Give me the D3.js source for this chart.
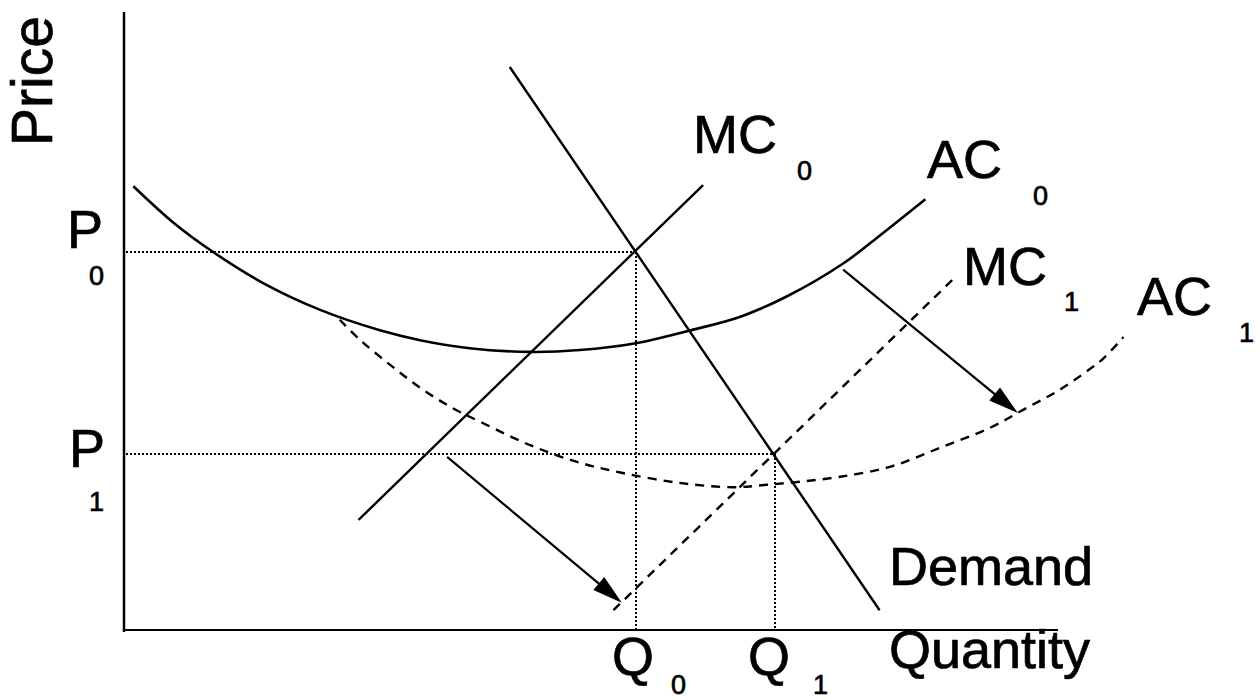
<!DOCTYPE html>
<html>
<head>
<meta charset="utf-8">
<script src="https://cdn.jsdelivr.net/npm/d3@7"></script>
<style>
  html, body { margin: 0; padding: 0; background: #fff; }
  svg { display: block; }
  text { font-family: "Liberation Sans", Arial, Helvetica, sans-serif; fill: #000; stroke: #000; stroke-width: 0.7px; }
</style>
</head>
<body>
<svg id="chart" width="1260" height="700"></svg>
<script>
// ---- data (abstract Quantity / Price units) ----
const demandLine = [[4.13, 9.11], [8.09, 0.32]];
const mc0Line = [[2.51, 1.78], [6.20, 7.20]];
const mc1Line = [[5.24, 0.32], [8.92, 5.74]];
const ac0Curve = [
  [0.10, 7.18], [0.53, 6.59], [0.95, 6.12], [1.53, 5.58], [2.10, 5.18],
  [2.74, 4.85], [3.17, 4.69], [3.70, 4.56], [4.35, 4.50], [4.88, 4.53],
  [5.48, 4.64], [6.04, 4.84], [6.60, 5.07], [7.10, 5.40], [7.70, 5.93],
  [8.09, 6.38], [8.58, 6.97]
];
const ac1Curve = [
  [2.31, 5.02], [2.53, 4.69], [2.85, 4.29], [3.17, 3.92], [3.52, 3.59],
  [3.84, 3.35], [4.35, 2.99], [4.85, 2.72], [5.34, 2.54], [5.95, 2.38],
  [6.52, 2.31], [6.88, 2.35], [7.24, 2.40], [7.67, 2.48], [8.20, 2.64],
  [8.74, 2.95], [9.27, 3.27], [9.66, 3.59], [10.01, 3.88], [10.33, 4.21],
  [10.49, 4.40], [10.70, 4.74]
];
const equilibriumQ = [5.48, 6.97];   // Q0, Q1
const equilibriumP = [6.12, 2.85];   // P0, P1
const shiftArrows = [
  [[3.46, 2.80], [5.33, 0.44]],
  [[7.70, 5.83], [9.57, 3.51]]
];
const axisMax = [10, 10];

// ---- scales ----
const x = d3.scaleLinear().domain([0, axisMax[0]]).range([124, 1058]);
const y = d3.scaleLinear().domain([0, axisMax[1]]).range([630, 12]);

const svg = d3.select("#chart");
const line = d3.line().x(d => x(d[0])).y(d => y(d[1]));
const curve = d3.line().x(d => x(d[0])).y(d => y(d[1])).curve(d3.curveCatmullRom.alpha(0.5));

// axes
svg.append("line").attr("x1", x(0)).attr("x2", x(0)).attr("y1", y(axisMax[1])).attr("y2", y(0) + 2)
  .attr("stroke", "#000").attr("stroke-width", 2.5);
svg.append("line").attr("x1", x(0)).attr("x2", x(axisMax[0])).attr("y1", y(0)).attr("y2", y(0))
  .attr("stroke", "#000").attr("stroke-width", 2.2);

// dotted guide lines
const dotted = svg.append("g").attr("stroke", "#000").attr("stroke-width", 2)
  .attr("stroke-dasharray", "2,2").attr("shape-rendering", "crispEdges");
equilibriumQ.forEach((q, i) => {
  const p = equilibriumP[i];
  const px = Math.round(x(q)), py = Math.round(y(p));
  dotted.append("line").attr("x1", x(0) + 2).attr("x2", px).attr("y1", py).attr("y2", py);
  dotted.append("line").attr("x1", px).attr("x2", px).attr("y1", py).attr("y2", y(0));
});

// solid curves
svg.append("path").datum(ac0Curve).attr("d", curve).attr("fill", "none").attr("stroke", "#000").attr("stroke-width", 2.6);
svg.append("path").datum(mc0Line).attr("d", line).attr("fill", "none").attr("stroke", "#000").attr("stroke-width", 2.4);
svg.append("path").datum(demandLine).attr("d", line).attr("fill", "none").attr("stroke", "#000").attr("stroke-width", 2.4);

// dashed curves
svg.append("path").datum(ac1Curve).attr("d", curve).attr("fill", "none").attr("stroke", "#000")
  .attr("stroke-width", 2.4).attr("stroke-dasharray", "9,7");
svg.append("path").datum(mc1Line).attr("d", line).attr("fill", "none").attr("stroke", "#000")
  .attr("stroke-width", 2.4).attr("stroke-dasharray", "9,7");

// arrows
shiftArrows.forEach(a => {
  const x0 = x(a[0][0]), y0 = y(a[0][1]), x1 = x(a[1][0]), y1 = y(a[1][1]);
  const dx = x1 - x0, dy = y1 - y0, L = Math.hypot(dx, dy);
  const ux = dx / L, uy = dy / L;
  const hl = 30, hw = 8.5;
  const bx = x1 - ux * hl, by = y1 - uy * hl;
  svg.append("line").attr("x1", x0).attr("y1", y0).attr("x2", bx + ux * 4).attr("y2", by + uy * 4)
    .attr("stroke", "#000").attr("stroke-width", 2.2);
  svg.append("polygon")
    .attr("points", [[x1, y1], [bx - uy * hw, by + ux * hw], [bx + uy * hw, by - ux * hw]].map(p => p.join(",")).join(" "))
    .attr("fill", "#000");
});

// labels
const big = 54, small = 27;
function lbl(t, px, py, size) {
  svg.append("text").attr("x", px).attr("y", py).attr("font-size", size).text(t);
}
svg.append("text").attr("transform", "translate(52,146) rotate(-90)").attr("font-size", 57).text("Price");
lbl("P", 67, 248, big); lbl("0", 89, 285, small);
lbl("P", 69, 467, big); lbl("1", 89, 511, small);
lbl("MC", 693, 153, big); lbl("0", 797, 180, small);
lbl("AC", 927, 178, big); lbl("0", 1033, 205, small);
lbl("MC", 963, 285, big); lbl("1", 1064, 311, small);
lbl("AC", 1137, 315, big); lbl("1", 1239, 342, small);
lbl("Demand", 889, 585, big);
lbl("Quantity", 889, 668, big);
lbl("Q", 612, 675, big); lbl("0", 671, 694, small);
lbl("Q", 748, 675, big); lbl("1", 813, 694, small);
</script>
</body>
</html>
